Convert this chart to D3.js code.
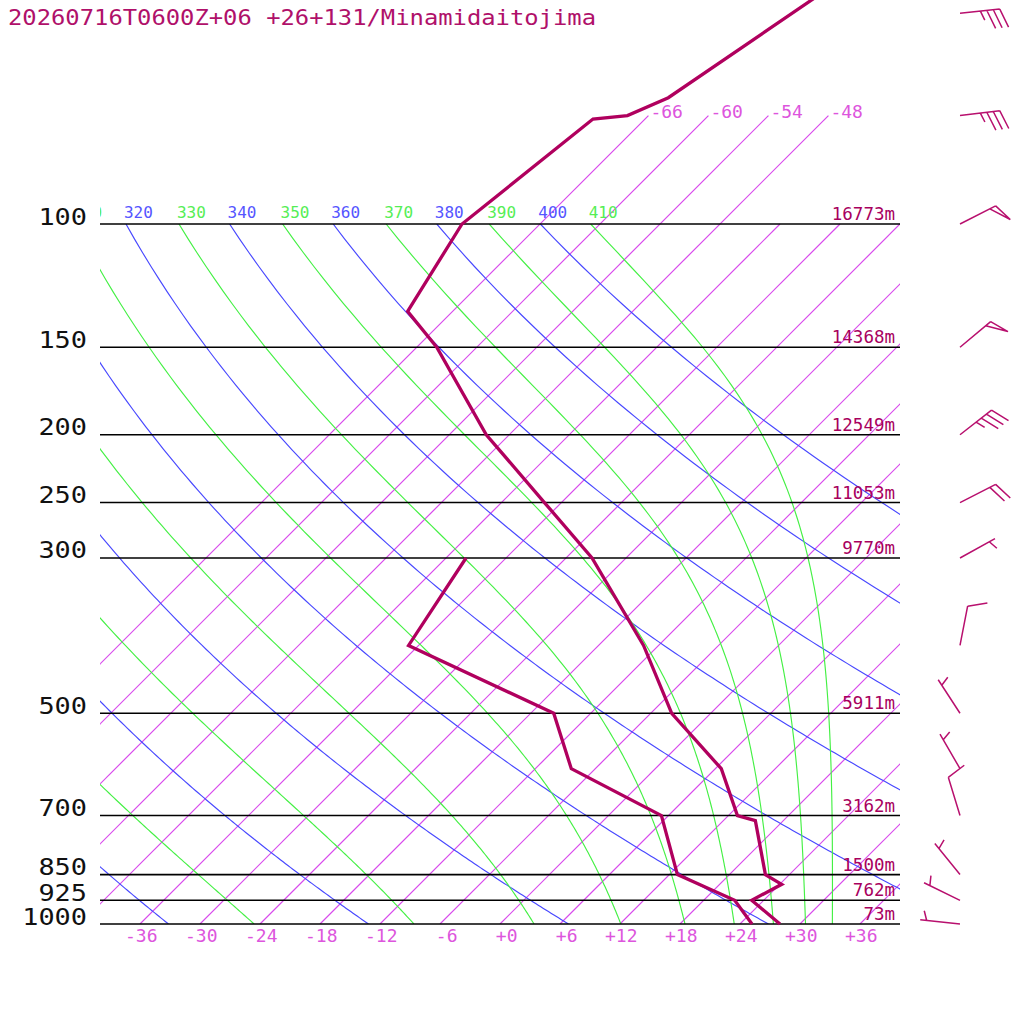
<!doctype html>
<html>
<head>
<meta charset="utf-8">
<style>
  body { margin: 0; background: #fff; }
  svg text { font-family: "DejaVu Sans Mono", monospace; }
  .isotherm { fill: none; stroke: #d84aec; stroke-width: 1.2px; }
  .dry { fill: none; stroke: #4848ff; stroke-width: 1.15px; }
  .moist { fill: none; stroke: #44f044; stroke-width: 1.15px; }
</style>
</head>
<body>
<script src="https://d3js.org/d3.v7.min.js"></script>
<div id="chart"></div>
<script>

// ---- data ----
var title = "20260716T0600Z+06 +26+131/Minamidaitojima";

var isobars = [1000, 925, 850, 700, 500, 300, 250, 200, 150, 100];
var isobarHeights = ["73m", "762m", "1500m", "3162m", "5911m", "9770m", "11053m", "12549m", "14368m", "16773m"];

var tempTicks = [-36, -30, -24, -18, -12, -6, 0, 6, 12, 18, 24, 30, 36];
var isotherms = [-66, -60, -54, -48, -42, -36, -30, -24, -18, -12, -6, 0, 6, 12, 18, 24, 30, 36];
var isothermLabels = [-66, -60, -54, -48];
var dryAdiabats = [240, 260, 280, 300, 320, 340, 360, 380, 400];
var moistAdiabats = [250, 270, 290, 310, 330, 350, 370, 390, 410];

// sounding: temperature and dewpoint (hPa, degC)
var tempP = [1000, 925, 877.6, 850, 711.8, 700, 600, 500, 400, 300, 250, 200, 150, 133.3, 100, 70.8, 70, 66, 40];
var tempT = [28.0, 22.8, 24.2, 21.6, 15.2, 12.9, 6.6, -3.9, -13.5, -27.4, -37.7, -50.3, -64.0, -70.5, -73.8, -71.2, -68.1, -65.8, -58.7];
var dewP = [1000, 925, 850, 700, 600, 500, 400, 300];
var dewT = [25.2, 21.1, 12.8, 5.3, -8.4, -15.7, -37.0, -40.0];

// winds (hPa, direction deg, speed kt)
var windP = [1000, 925, 850, 700, 600, 500, 400, 300, 250, 200, 150, 100, 70, 50];
var windDir = [276, 296, 321, 343, 330, 327, 11, 61, 63, 52, 50, 63, 83, 84];
var windSpd = [5, 5, 5, 10, 5, 5, 10, 5, 20, 35, 50, 50, 35, 35];

// ---- layout ----
var W = 1024, H = 1024;
var pLeft = 100, pRight = 900, pTop = 224, pBottom = 924;

var yP = d3.scaleLog().domain([1000, 100]).range([pBottom, pTop]);
var xT = d3.scaleLinear().domain([-36, 36]).range([140, 860]);
// skewed x: isotherms lean 45 degrees
function X(t, p) { return xT(t) + (pBottom - yP(p)); }

var svg = d3.select("#chart").append("svg")
	.attr("width", W).attr("height", H)
	.style("display", "block");
svg.append("rect").attr("width", W).attr("height", H).attr("fill", "#fff");

var defs = svg.append("defs");
defs.append("clipPath").attr("id", "clipPlot")
	.append("rect").attr("x", pLeft).attr("y", pTop).attr("width", pRight - pLeft).attr("height", pBottom - pTop);
defs.append("clipPath").attr("id", "clipIso")
	.append("rect").attr("x", pLeft).attr("y", 100).attr("width", pRight - pLeft).attr("height", pBottom - 100);
defs.append("clipPath").attr("id", "clipLab")
	.append("rect").attr("x", pLeft).attr("y", 190).attr("width", 824).attr("height", 34);

// thermodynamics for the background lines
var kappa = 0.2857;
function es(tc) { return 6.112 * Math.exp(17.67 * tc / (tc + 243.5)); }
function thetaE(tc, p) {
	var T = tc + 273.15, e = es(tc), r = 1000 * 0.622 * e / (p - e);
	return T * Math.pow(1000 / p, 0.2854 * (1 - 0.28e-3 * r)) *
		Math.exp((3.376 / T - 0.00254) * r * (1 + 0.81e-3 * r));
}
function moistT(te, p) {
	var lo = -170, hi = 60;
	for (var i = 0; i < 50; i++) {
		var mid = (lo + hi) / 2;
		if (thetaE(mid, p) > te) hi = mid; else lo = mid;
	}
	return (lo + hi) / 2;
}
function dryT(th, p) { return th * Math.pow(p / 1000, kappa) - 273.15; }

var pSamples = [];
for (var ps = 1000; ps >= 100; ps -= 5) pSamples.push(ps);

var skewLine = d3.line().x(function(d) { return X(d.t, d.p); }).y(function(d) { return yP(d.p); });

// isotherms
var gIso = svg.append("g").attr("clip-path", "url(#clipIso)");
gIso.selectAll("path.isotherm").data(isotherms).enter().append("path")
	.attr("class", "isotherm")
	.attr("d", function(t) {
		var pEnd = isothermLabels.indexOf(t) >= 0 ? 70 : 100;
		return skewLine([{t: t, p: 1000}, {t: t, p: pEnd}]);
	});

svg.append("g").selectAll("text").data(isothermLabels).enter().append("text")
	.attr("x", function(t) { return X(t, 70) + 2; })
	.attr("y", yP(70) + 2)
	.attr("font-size", 18).attr("fill", "#dd55dd")
	.text(function(t) { return String(t); });

// dry adiabats
var gPlot = svg.append("g").attr("clip-path", "url(#clipPlot)");
gPlot.selectAll("path.dry").data(dryAdiabats).enter().append("path").attr("class", "dry")
	.attr("d", function(th) { return skewLine(pSamples.map(function(p) { return {t: dryT(th, p), p: p}; })); });

// moist adiabats
gPlot.selectAll("path.moist").data(moistAdiabats).enter().append("path").attr("class", "moist")
	.attr("d", function(te) { return skewLine(pSamples.map(function(p) { return {t: moistT(te, p), p: p}; })); });

// adiabat labels along 100 hPa (only those that reach into the plot)
function labX(th) { return X(dryT(th, 100), 100) - 2; }
function labXe(te) { return X(moistT(te, 100), 100) - 2; }
var gLab = svg.append("g").attr("clip-path", "url(#clipLab)").attr("font-size", 16);
gLab.selectAll("text.dryl").data(dryAdiabats.filter(function(th) { return labX(th) > pLeft - 28; }))
	.enter().append("text").attr("class", "dryl")
	.attr("x", labX)
	.attr("y", pTop - 6).attr("fill", "#5555ff")
	.text(function(th) { return th; });
gLab.selectAll("text.moistl").data(moistAdiabats.filter(function(te) { return labXe(te) > pLeft - 28; }))
	.enter().append("text").attr("class", "moistl")
	.attr("x", labXe)
	.attr("y", pTop - 6).attr("fill", "#55ee55")
	.text(function(te) { return te; });

// isobars
svg.append("g").selectAll("line").data(isobars).enter().append("line")
	.attr("x1", pLeft).attr("x2", pRight)
	.attr("y1", function(p) { return yP(p); }).attr("y2", function(p) { return yP(p); })
	.attr("stroke", "#000").attr("stroke-width", 1.6);

// pressure labels (left)
var yAxis = svg.append("g").attr("transform", "translate(87,0)")
	.call(d3.axisLeft(yP).tickValues(isobars).tickSize(0).tickFormat(d3.format("d")));
yAxis.select(".domain").remove();
yAxis.selectAll("text")
	.attr("x", 0).attr("dy", "0")
	.attr("text-anchor", "end")
	.attr("font-family", "DejaVu Sans Mono")
	.attr("font-size", 23).attr("fill", "#111")
	.attr("textLength", function(d) { return String(d).length * 16.2; })
	.attr("lengthAdjust", "spacingAndGlyphs");

// heights (right, inside plot)
svg.append("g").selectAll("text").data(isobars).enter().append("text")
	.attr("x", pRight - 5).attr("y", function(p) { return yP(p) - 4; })
	.attr("text-anchor", "end").attr("font-size", 17.5).attr("fill", "#a8005e")
	.text(function(p, i) { return isobarHeights[i]; });

// temperature axis (bottom)
var xAxis = svg.append("g").attr("transform", "translate(0," + pBottom + ")")
	.call(d3.axisBottom(xT).tickValues(tempTicks).tickSize(0)
		.tickFormat(function(d) { return (d >= 0 ? "+" : "-") + Math.abs(d); }));
xAxis.select(".domain").remove();
xAxis.selectAll("text")
	.attr("y", 18).attr("dy", "0").attr("dx", 17)
	.attr("text-anchor", "end")
	.attr("font-family", "DejaVu Sans Mono")
	.attr("font-size", 18).attr("fill", "#dd55dd");

// sounding
var tempData = tempP.map(function(p, i) { return {p: p, t: tempT[i]}; });
var dewData = dewP.map(function(p, i) { return {p: p, t: dewT[i]}; });
svg.append("path").datum(tempData).attr("d", skewLine)
	.attr("fill", "none").attr("stroke", "#b0005e").attr("stroke-width", 3.3);
svg.append("path").datum(dewData).attr("d", skewLine)
	.attr("fill", "none").attr("stroke", "#b0005e").attr("stroke-width", 3.3);

// wind barbs
function barb(p, dir, spd) {
	var bx = 960, by = yP(p);
	var a = dir * Math.PI / 180;
	var ux = Math.sin(a), uy = -Math.cos(a);
	var nx = -uy, ny = ux;
	var c = Math.cos(0.35), s = Math.sin(0.35);
	var vx = c * nx + s * ux, vy = c * ny + s * uy;
	var L = 40, step = 6.5, F = 20;
	var tx = bx + L * ux, ty = by + L * uy;
	var d = "M" + bx + "," + by + "L" + tx + "," + ty;
	var k = Math.round(spd / 5) * 5, pos = 0;
	var pen = Math.floor(k / 50); k -= pen * 50;
	var ful = Math.floor(k / 10); k -= ful * 10;
	var x0, y0, i;
	for (i = 0; i < pen; i++) {
		x0 = tx - pos * ux; y0 = ty - pos * uy;
		d += "M" + x0 + "," + y0 + "L" + (x0 + F * vx) + "," + (y0 + F * vy) +
			"L" + (tx - (pos + step) * ux) + "," + (ty - (pos + step) * uy);
		pos += step + 2;
	}
	for (i = 0; i < ful; i++) {
		x0 = tx - pos * ux; y0 = ty - pos * uy;
		d += "M" + x0 + "," + y0 + "L" + (x0 + F * vx) + "," + (y0 + F * vy);
		pos += step;
	}
	if (k >= 5) {
		if (pos === 0) pos = step;
		x0 = tx - pos * ux; y0 = ty - pos * uy;
		d += "M" + x0 + "," + y0 + "L" + (x0 + F / 2 * vx) + "," + (y0 + F / 2 * vy);
	}
	return d;
}
svg.append("g").selectAll("path").data(windP).enter().append("path")
	.attr("d", function(p, i) { return barb(p, windDir[i], windSpd[i]); })
	.attr("fill", "none").attr("stroke", "#b8106e").attr("stroke-width", 1.5);

// title
svg.append("text").attr("x", 8).attr("y", 25)
	.attr("font-size", 21).attr("fill", "#b0106a")
	.attr("textLength", 588).attr("lengthAdjust", "spacingAndGlyphs")
	.text(title);

</script>
</body>
</html>
